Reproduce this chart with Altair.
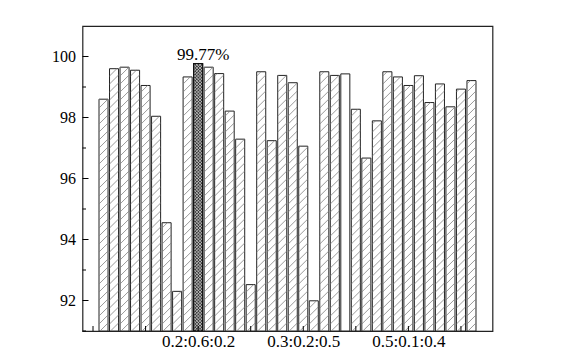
import altair as alt
import pandas as pd

# ---- data ----
bar_index = list(range(1, 37))
accuracy = [98.6, 99.6, 99.65, 99.55, 99.05, 98.04, 94.55, 92.3, 99.33, 99.77,
            99.65, 99.44, 98.21, 97.29, 92.52, 99.5, 97.24, 99.38, 99.14, 97.06,
            91.99, 99.5, 99.38, 99.43, 98.27, 96.67, 97.89, 99.5, 99.33, 99.05,
            99.37, 98.49, 99.1, 98.35, 98.93, 99.21]
highlight_index = 10
plain_index = 24
x_label_pos = [10, 20, 30]
x_label_text = ["0.2:0.6:0.2", "0.3:0.2:0.5", "0.5:0.1:0.4"]
x_tick_pos = [0, 5, 10, 15, 20, 25, 30, 35]
y_major = [92, 94, 96, 98, 100]
y_minor = [91, 93, 95, 97, 99]

# ---- layout ----
W, H = 410, 305
X_DOM = [-1, 38]
Y_DOM = [91, 101]
HALF = 0.43
FONT = "Times New Roman, Liberation Serif, Tinos, serif"

df = pd.DataFrame({"k": bar_index, "v": accuracy})
df["xl"] = df["k"] - HALF
df["xr"] = df["k"] + HALF
df["base"] = Y_DOM[0]
df["hl"] = df["k"] == highlight_index

ypp = (Y_DOM[1] - Y_DOM[0]) / H


def hatch_rows(k, v, rise_px, step_px, sign, group):
    """Diagonal segments across bar k, clipped to [Y_DOM[0], v]."""
    rise = rise_px * ypp
    step = step_px * ypp
    xl, xr = k - HALF, k + HALF
    lo, hi = Y_DOM[0], v
    out = []
    y0 = lo - rise
    while y0 < hi + rise:
        # P(t) = (xl + t*(xr-xl), y0 + sign*rise*t)
        ya, yb = y0, y0 + sign * rise
        t_lo, t_hi = 0.0, 1.0
        # need lo <= y(t) <= hi
        d = yb - ya
        ta = (lo - ya) / d
        tb = (hi - ya) / d
        t_min, t_max = min(ta, tb), max(ta, tb)
        t0, t1 = max(t_lo, t_min), min(t_hi, t_max)
        if t1 > t0:
            out.append({
                "x1": xl + t0 * (xr - xl), "x2": xl + t1 * (xr - xl),
                "y1": ya + t0 * d, "y2": ya + t1 * d, "g": group,
            })
        y0 += step
    return out


rows = []
for k, v in zip(bar_index, accuracy):
    if k == plain_index:
        continue
    if k == highlight_index:
        rows += hatch_rows(k, v, 9, 3.2, 1, "cross")
        rows += hatch_rows(k, v, 9, 3.2, -1, "cross")
    else:
        rows += hatch_rows(k, v, 9, 8, 1, "hatch")
hatch = pd.DataFrame(rows)

xs = alt.Scale(domain=X_DOM, nice=False, zero=False)
ys = alt.Scale(domain=Y_DOM, nice=False, zero=False)

label_expr = "''"
for p, t in zip(reversed(x_label_pos), reversed(x_label_text)):
    label_expr = f"datum.value == {p} ? '{t}' : ({label_expr})"

x_axis = alt.Axis(values=x_label_pos, labelExpr=label_expr, ticks=False, domain=False,
                  grid=False, labelFont=FONT, labelFontSize=17, labelColor="black",
                  labelPadding=2)
y_axis = alt.Axis(values=y_major, ticks=False, domain=False, grid=False,
                  labelFont=FONT, labelFontSize=16, labelColor="black", labelPadding=7)

bars = alt.Chart(df).mark_bar(stroke="#222", strokeWidth=1, clip=True).encode(
    x=alt.X("xl:Q", scale=xs, axis=x_axis, title=None),
    x2="xr:Q",
    y=alt.Y("v:Q", scale=ys, axis=y_axis, title=None),
    y2="base:Q",
    fill=alt.condition("datum.hl", alt.value("#3a3a3a"), alt.value("white")),
)

hatch_layer = alt.Chart(hatch).transform_filter("datum.g == 'hatch'").mark_rule(
    color="#808080", strokeWidth=0.8, clip=True).encode(
    x=alt.X("x1:Q", scale=xs, title=None), x2="x2:Q",
    y=alt.Y("y1:Q", scale=ys, title=None), y2="y2:Q",
)
cross_layer = alt.Chart(hatch).transform_filter("datum.g == 'cross'").mark_rule(
    color="#c8c8c8", strokeWidth=0.8, clip=True).encode(
    x=alt.X("x1:Q", scale=xs, title=None), x2="x2:Q",
    y=alt.Y("y1:Q", scale=ys, title=None), y2="y2:Q",
)
hl_outline = alt.Chart(df).transform_filter("datum.hl").mark_bar(
    fill=None, fillOpacity=0, stroke="#111", strokeWidth=1.2, clip=True).encode(
    x=alt.X("xl:Q", scale=xs, title=None), x2="xr:Q",
    y=alt.Y("v:Q", scale=ys, title=None), y2="base:Q",
)

txt = alt.Chart(df).transform_filter("datum.hl").transform_calculate(
    lab="format(datum.v, '.2f') + '%'"
).mark_text(font=FONT, fontSize=17, color="black", baseline="alphabetic",
            align="center", dx=5, dy=-4).encode(
    x=alt.X("k:Q", scale=xs, title=None),
    y=alt.Y("v:Q", scale=ys, title=None),
    text="lab:N",
)

ytick_major = alt.Chart(pd.DataFrame({"t": y_major})).mark_rule(color="black", strokeWidth=1).encode(
    y=alt.Y("t:Q", scale=ys, title=None), x=alt.value(0), x2=alt.value(6))
ytick_minor = alt.Chart(pd.DataFrame({"t": y_minor})).mark_rule(color="black", strokeWidth=1).encode(
    y=alt.Y("t:Q", scale=ys, title=None), x=alt.value(0), x2=alt.value(3.5))
xtick = alt.Chart(pd.DataFrame({"t": x_tick_pos})).mark_rule(color="black", strokeWidth=1).encode(
    x=alt.X("t:Q", scale=xs, title=None), y=alt.value(H), y2=alt.value(H - 5))

chart = alt.layer(bars, hatch_layer, cross_layer, hl_outline, txt,
                  ytick_major, ytick_minor, xtick).properties(
    width=W, height=H,
    autosize=alt.AutoSizeParams(type="none"),
    padding={"left": 74.5, "top": 18, "right": 60, "bottom": 22},
    background="white",
).configure_view(stroke="#222", strokeWidth=1.2)

chart.save("out.html", embed_options={"renderer": "svg", "actions": False})
